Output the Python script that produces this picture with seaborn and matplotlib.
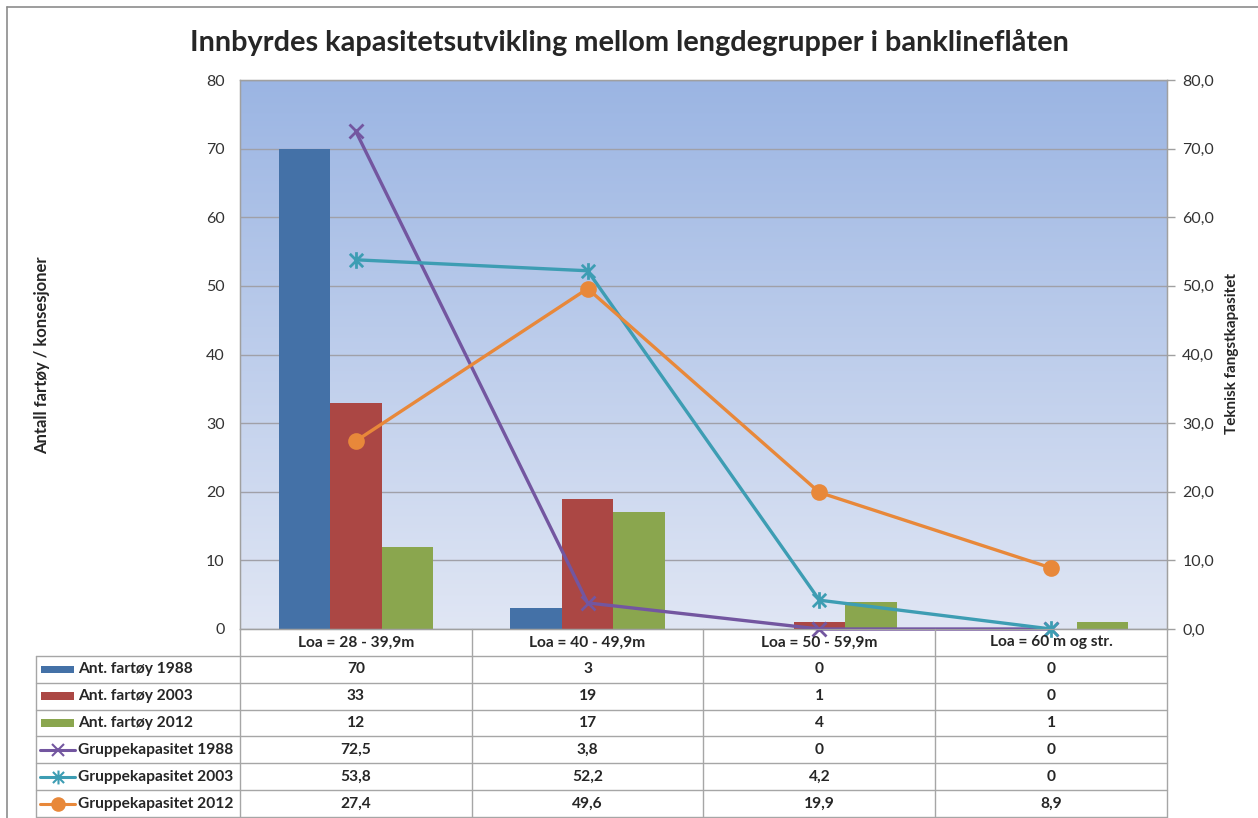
import numpy as np
import pandas as pd
import matplotlib
matplotlib.use("Agg")
import matplotlib.pyplot as plt
import seaborn as sns
from matplotlib.path import Path
from matplotlib.patches import Rectangle
from matplotlib.lines import Line2D
from matplotlib.ticker import FuncFormatter

sns.set_style("white")
plt.rcParams['font.family'] = ['Lato', 'DejaVu Sans']

# Data
categories = ["Loa = 28 - 39,9m", "Loa = 40 - 49,9m", "Loa = 50 - 59,9m", "Loa = 60 m og str."]
bar_series = ["Ant. fartøy 1988", "Ant. fartøy 2003", "Ant. fartøy 2012"]
bar_values = [
    [70, 3, 0, 0],
    [33, 19, 1, 0],
    [12, 17, 4, 1],
]
line_series = ["Gruppekapasitet 1988", "Gruppekapasitet 2003", "Gruppekapasitet 2012"]
line_values = [
    [72.5, 3.8, 0, 0],
    [53.8, 52.2, 4.2, 0],
    [27.4, 49.6, 19.9, 8.9],
]

bar_colors = ["#4471A7", "#AB4744", "#8AA64E"]
line_colors = ["#7356A0", "#3D9DB3", "#E8883A"]

# star marker like Excel: X plus vertical bar
star = Path([(-1, -1), (1, 1), (-1, 1), (1, -1), (0, -1.25), (0, 1.25)],
            [Path.MOVETO, Path.LINETO, Path.MOVETO, Path.LINETO, Path.MOVETO, Path.LINETO])
line_markers = ["x", star, "o"]
line_msizes = [10, 12, 10]

W, H = 1258, 818
fig = plt.figure(figsize=(W / 100, H / 100), dpi=100)

# outer chart border (top and left visible)
fig.add_artist(Line2D([7 / W, 7 / W], [0, 1 - 7 / H], color="#8C8C8C", lw=1.2))
fig.add_artist(Line2D([7 / W, 1], [1 - 7 / H, 1 - 7 / H], color="#8C8C8C", lw=1.2))

# plot area
ax = fig.add_axes([240 / W, (H - 629) / H, 927 / W, 549 / H])

rows = []
for name, vals in zip(bar_series, bar_values):
    for cat, v in zip(categories, vals):
        rows.append({"cat": cat, "series": name, "value": v})
df_bars = pd.DataFrame(rows)

sns.barplot(data=df_bars, x="cat", y="value", hue="series", order=categories,
            hue_order=bar_series, palette=bar_colors, width=0.667,
            linewidth=0, saturation=1, legend=False, ax=ax, zorder=2)

# gradient background
grad = np.linspace(0, 1, 256).reshape(-1, 1)
cmap = matplotlib.colors.LinearSegmentedColormap.from_list("bg", ["#E0E6F4", "#9BB5E3"])
ax.imshow(grad, extent=(-0.5, 3.5, 0, 80), aspect="auto", origin="lower",
          cmap=cmap, zorder=0)
ax.set_xlim(-0.5, 3.5)
ax.set_ylim(0, 80)
ax.set_yticks(np.arange(0, 81, 10))
ax.set_axisbelow(True)
ax.grid(axis="y", color="#A0A0A8", lw=1)
ax.grid(axis="x", visible=False)
ax.set_xticks([])
ax.set_xlabel("")
ax.set_ylabel("")
ax.tick_params(axis="y", length=0, pad=11, labelsize=11.5, labelcolor="#333333")
for s in ax.spines.values():
    s.set_color("#A0A0A0")
    s.set_linewidth(1)

ax2 = ax.twinx()
x = np.arange(len(categories))
for name, vals, c, m, ms in zip(line_series, line_values, line_colors, line_markers, line_msizes):
    sns.lineplot(x=x, y=vals, ax=ax2, color=c, lw=2.4, marker=m, markersize=ms,
                 markeredgecolor=c, markerfacecolor=c, markeredgewidth=2, clip_on=False)
ax2.set_ylim(0, 80)
ax2.set_xlim(-0.5, 3.5)
ax2.set_yticks(np.arange(0, 81, 10))
ax2.yaxis.set_major_formatter(FuncFormatter(lambda v, p: f"{v:.1f}".replace(".", ",")))
ax2.tick_params(axis="y", length=6, width=1, color="#A0A0A0", pad=5,
                labelsize=11.5, labelcolor="#333333")
for s in ax2.spines.values():
    s.set_color("#A0A0A0")

fig.text(0.5, 1 - 42 / H, "Innbyrdes kapasitetsutvikling mellom lengdegrupper i banklineflåten",
         ha="center", va="center", fontsize=20.8, fontweight="bold")
fig.text(42 / W, 1 - 355 / H, "Antall fartøy / konsesjoner", rotation=90,
         ha="center", va="center", fontsize=12, fontweight="bold")
fig.text(1232 / W, 1 - 353 / H, "Teknisk fangstkapasitet", rotation=90,
         ha="center", va="center", fontsize=11, fontweight="bold")

# data table below the plot
tax = fig.add_axes([36 / W, 1 / H, (1167 - 36) / W, 188 / H])
cw = 231.75


def px2x(p):
    return -0.5 + (p - 240) / cw


tax.set_xlim(px2x(36), 3.5)
tax.set_ylim(7, 0)
tax.axis("off")
gc = "#A6A6A6"
for b in np.arange(-0.5, 3.6, 1.0):
    tax.plot([b, b], [0, 7], color=gc, lw=1, clip_on=False)
tax.plot([px2x(36), px2x(36)], [1, 7], color=gc, lw=1, clip_on=False)
for r in range(1, 8):
    tax.plot([px2x(36), 3.5], [r, r], color=gc, lw=1, clip_on=False)

for i, cat in enumerate(categories):
    tax.text(i, 0.5, cat, ha="center", va="center", fontsize=11.2, fontweight="bold")


def fmt(v):
    return f"{v:g}".replace(".", ",")


all_names = bar_series + line_series
all_vals = bar_values + line_values
for r, (name, vals) in enumerate(zip(all_names, all_vals), start=1):
    yc = r + 0.5
    tax.text(px2x(78), yc, name, ha="left", va="center", fontsize=11.2, fontweight="bold")
    for i, v in enumerate(vals):
        tax.text(i, yc, fmt(v), ha="center", va="center", fontsize=11.2, fontweight="bold")

for k, c in enumerate(bar_colors):
    yc = k + 1.5
    tax.add_patch(Rectangle((px2x(41), yc - 0.14), px2x(74) - px2x(41), 0.28,
                            color=c, lw=0))
for k, (c, m) in enumerate(zip(line_colors, line_markers)):
    yc = k + 4.5
    tax.plot([px2x(40), px2x(75)], [yc, yc], color=c, lw=2.2)
    tax.plot([px2x(57.5)], [yc], color=c, marker=m, markersize=9 if k != 1 else 10,
             markeredgecolor=c, markerfacecolor=c, markeredgewidth=1.5)

fig.savefig("out.png", dpi=100)
